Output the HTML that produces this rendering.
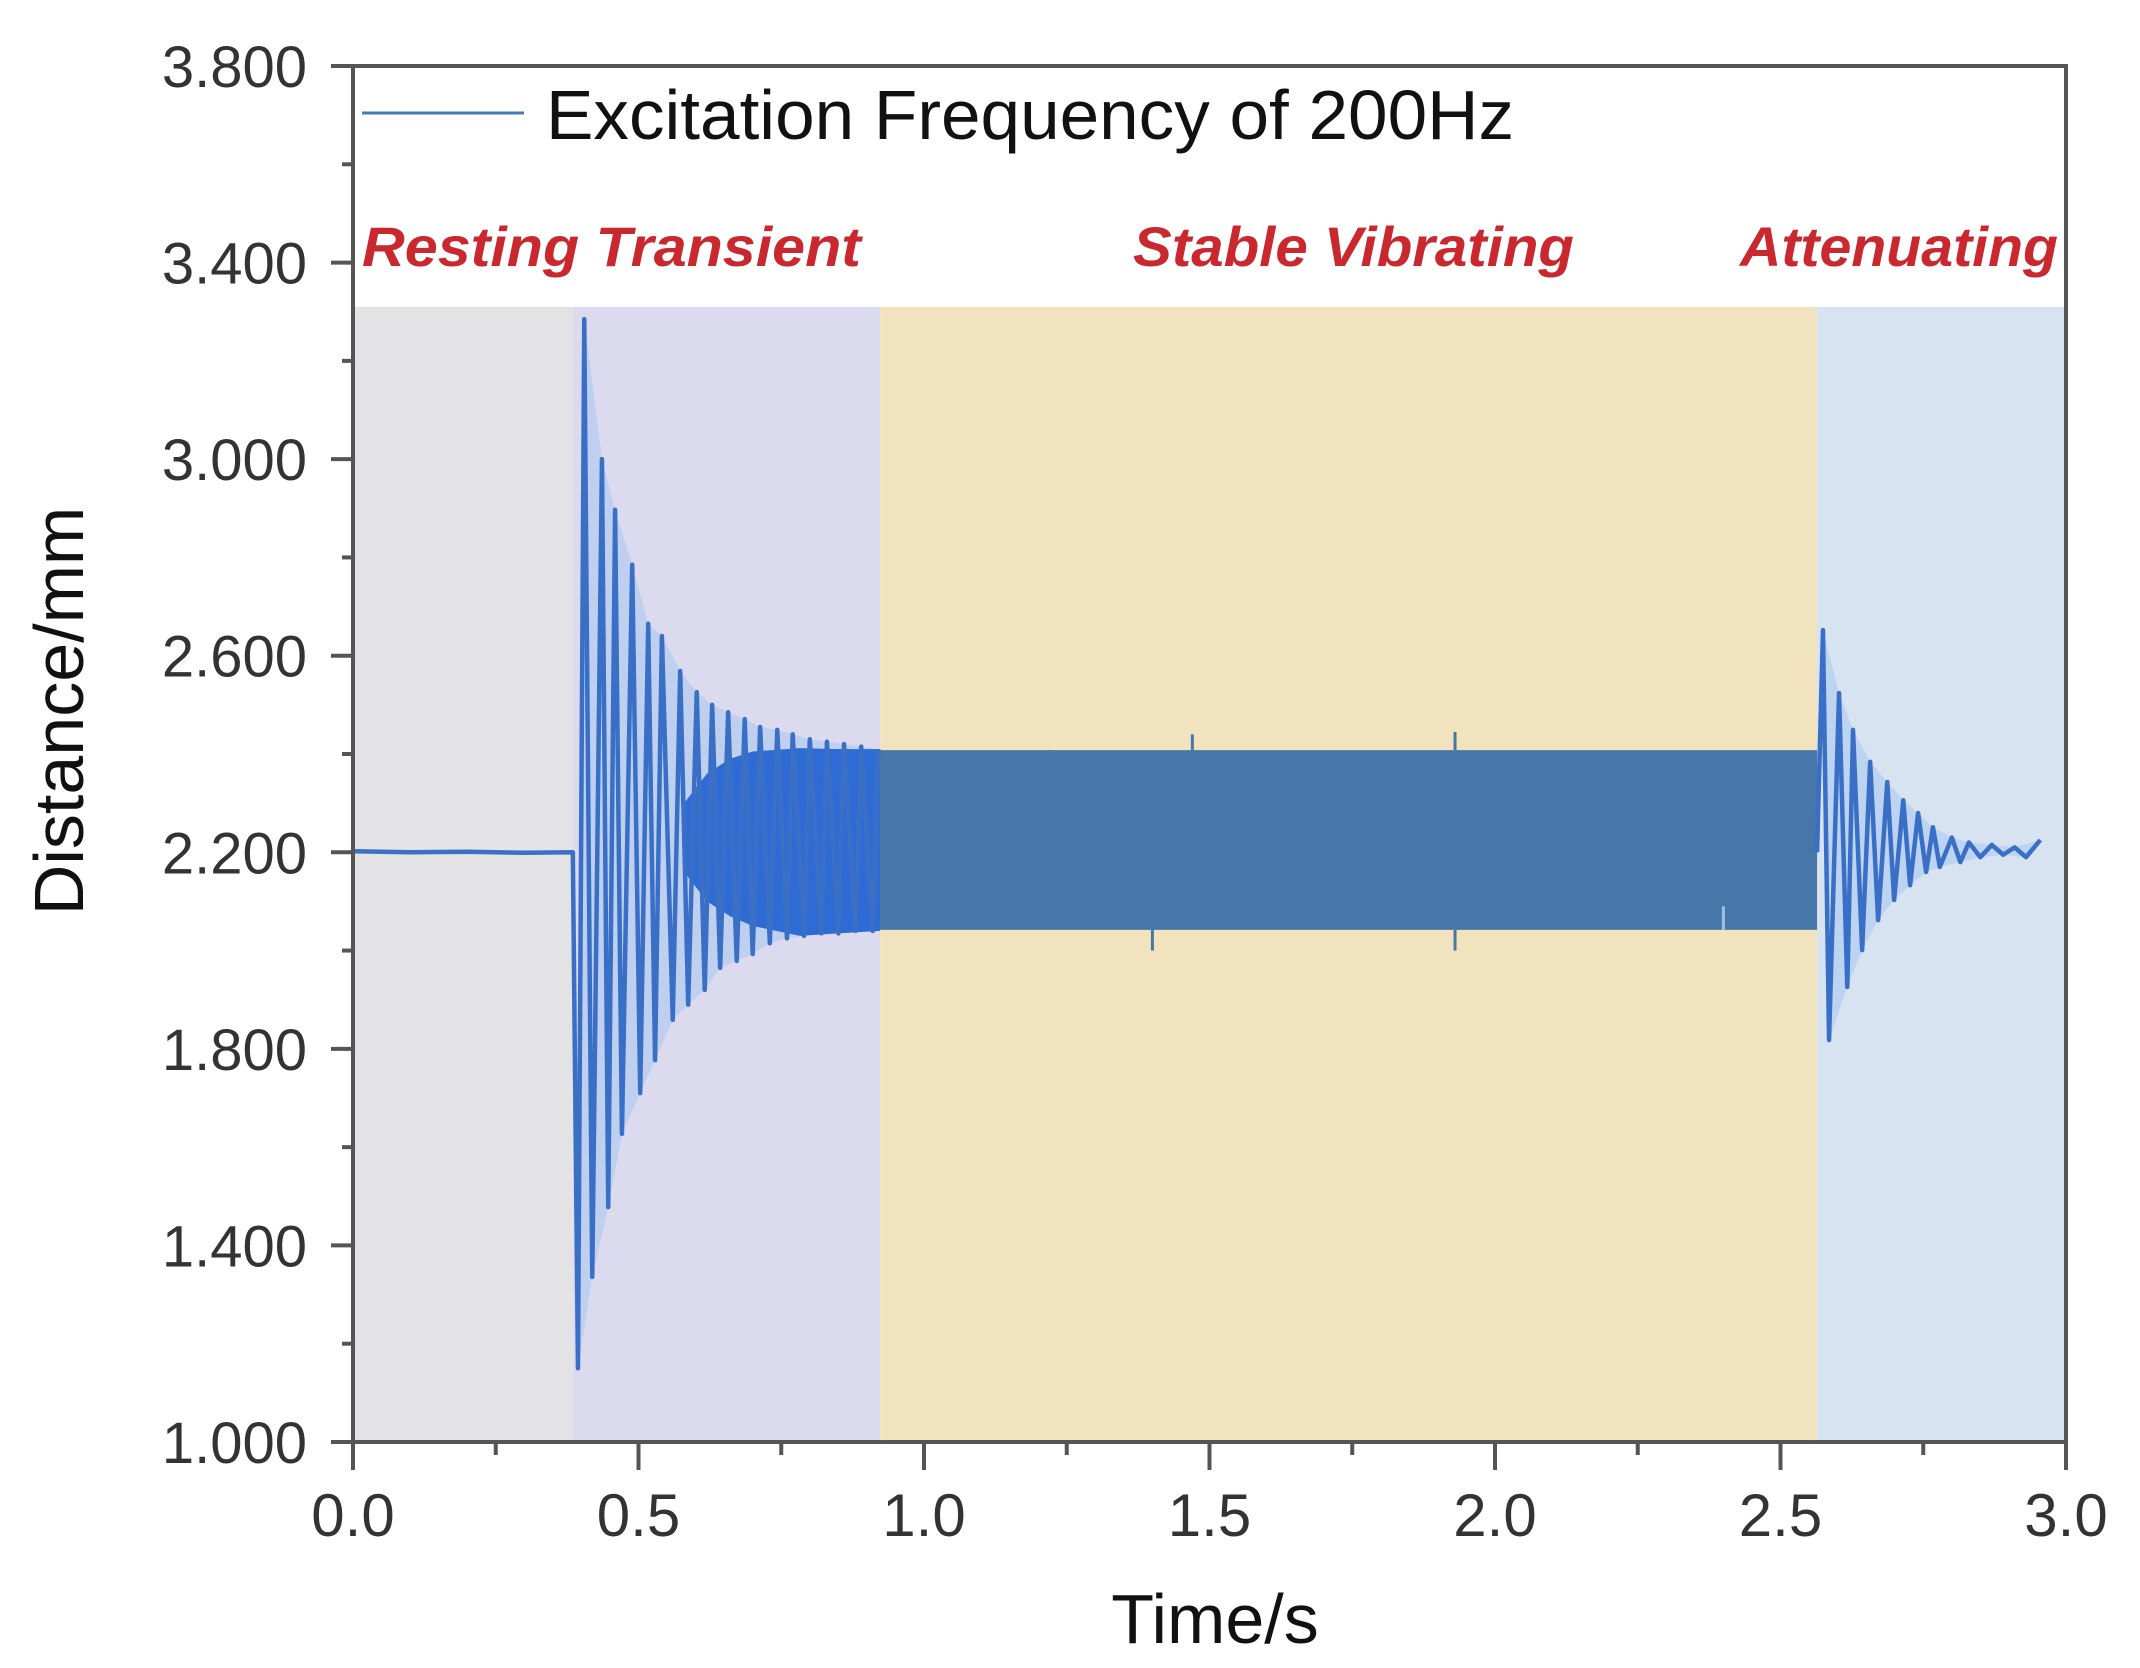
<!DOCTYPE html>
<html><head><meta charset="utf-8"><style>
html,body{margin:0;padding:0;background:#fff;}
svg{display:block;}
text{font-family:"Liberation Sans",sans-serif;}
</style></head><body>
<svg id="chart" width="2140" height="1668" viewBox="0 0 2140 1668" xmlns="http://www.w3.org/2000/svg">
<g id="regions"></g>
<g id="series"></g>
<g id="axes"></g>
<g id="labels"></g>
</svg>
<script>
// ---- data ----
const xTicks = [0.0, 0.5, 1.0, 1.5, 2.0, 2.5, 3.0];
const xTickLabels = ["0.0","0.5","1.0","1.5","2.0","2.5","3.0"];
const yTicks = [1.0, 1.4, 1.8, 2.2, 2.6, 3.0, 3.4, 3.8];
const yTickLabels = ["1.000","1.400","1.800","2.200","2.600","3.000","3.400","3.800"];
const phaseNames = ["Resting","Transient","Stable Vibrating","Attenuating"];
const phaseStart = [0.0, 0.385, 0.923, 2.564];
const phaseEnd = [0.385, 0.923, 2.564, 3.0];
const phaseTop = 3.31;
const restT = [0.0, 0.1, 0.2, 0.3, 0.385];
const restV = [2.202, 2.2, 2.201, 2.199, 2.2];
const transPeakT = [0.405, 0.436, 0.459, 0.489, 0.517, 0.541, 0.573, 0.602, 0.629, 0.657, 0.686, 0.713, 0.743, 0.77, 0.80, 0.83, 0.86, 0.89, 0.92];
const transPeakV = [3.285, 3.00, 2.897, 2.785, 2.665, 2.64, 2.569, 2.526, 2.50, 2.485, 2.471, 2.455, 2.449, 2.44, 2.43, 2.425, 2.42, 2.415, 2.41];
const transTroughT = [0.394, 0.419, 0.447, 0.471, 0.503, 0.529, 0.560, 0.587, 0.616, 0.643, 0.672, 0.700, 0.730, 0.76, 0.79, 0.82, 0.85, 0.88, 0.91];
const transTroughV = [1.15, 1.336, 1.478, 1.627, 1.71, 1.777, 1.859, 1.89, 1.92, 1.965, 1.979, 1.993, 2.015, 2.025, 2.03, 2.035, 2.035, 2.04, 2.04];
const denseT = [0.58, 0.62, 0.66, 0.70, 0.783, 0.85, 0.923];
const denseUpper = [2.30, 2.36, 2.39, 2.405, 2.412, 2.41, 2.41];
const denseLower = [2.16, 2.10, 2.07, 2.05, 2.03, 2.035, 2.04];
const stableT = [0.923, 2.564];
const stableUpper = [2.408, 2.408];
const stableLower = [2.042, 2.042];
const spikeT = [1.22, 1.40, 1.47, 1.93, 1.93, 2.40];
const spikeV = [2.37, 2.00, 2.44, 2.445, 2.00, 2.09];
const attPeakT = [2.5744, 2.6025, 2.627, 2.657, 2.687, 2.715, 2.741, 2.767, 2.80, 2.83, 2.87, 2.91, 2.955];
const attPeakV = [2.652, 2.524, 2.449, 2.384, 2.343, 2.306, 2.28, 2.251, 2.23, 2.22, 2.215, 2.21, 2.225];
const attTroughT = [2.585, 2.617, 2.643, 2.671, 2.699, 2.727, 2.755, 2.779, 2.815, 2.85, 2.89, 2.93];
const attTroughV = [1.818, 1.926, 2.001, 2.062, 2.103, 2.133, 2.16, 2.17, 2.18, 2.19, 2.195, 2.19];

// ---- scales ----
const X0 = 353, X1 = 2066, Y0 = 1442, Y1 = 66;
const xMin = 0, xMax = 3, yMin = 1.0, yMax = 3.8;
function sx(t){ return X0 + (t - xMin) / (xMax - xMin) * (X1 - X0); }
function sy(v){ return Y0 - (v - yMin) / (yMax - yMin) * (Y0 - Y1); }
const NS = "http://www.w3.org/2000/svg";
function mk(tag, attrs, parent){
  const el = document.createElementNS(NS, tag);
  for (const k in attrs) el.setAttribute(k, attrs[k]);
  parent.appendChild(el);
  return el;
}
const gR = document.getElementById('regions');
const gS = document.getElementById('series');
const gA = document.getElementById('axes');
const gL = document.getElementById('labels');

const regionFill = ["#e3e3e6", "#dcdaee", "#f1e3bd", "#d8e3f1"];
phaseStart.forEach((s, i) => {
  const r = mk('rect', {x: sx(s), y: sy(phaseTop), width: sx(phaseEnd[i]) - sx(s), height: Y0 - sy(phaseTop), fill: regionFill[i]}, gR);
  
  
});

function merge(pt, pv, tt, tv){
  const pts = [];
  pt.forEach((t, i) => pts.push([t, pv[i]]));
  tt.forEach((t, i) => pts.push([t, tv[i]]));
  pts.sort((a, b) => a[0] - b[0]);
  return pts;
}
function envPoly(pt, pv, tt, tv){
  const up = pt.map((t, i) => sx(t) + ',' + sy(pv[i]));
  const lo = tt.map((t, i) => sx(t) + ',' + sy(tv[i])).reverse();
  return up.concat(lo).join(' ');
}

const te = mk('polygon', {points: envPoly(transPeakT, transPeakV, transTroughT, transTroughV), fill: "#a8c6f3", opacity: 0.55}, gS);


const ae = mk('polygon', {points: envPoly(attPeakT, attPeakV, attTroughT, attTroughV), fill: "#a8c6f3", opacity: 0.55}, gS);



const dp = mk('polygon', {points: envPoly(denseT, denseUpper, denseT, denseLower), fill: "#2e6bd4"}, gS);



const sb = mk('polygon', {points: envPoly(stableT, stableUpper, stableT, stableLower), fill: "#4677a8"}, gS);


spikeT.forEach((t, i) => {
  const base = spikeV[i] > 2.2 ? stableUpper[0] : stableLower[0];
  const l = mk('line', {x1: sx(t), x2: sx(t), y1: sy(base), y2: sy(spikeV[i]), stroke: spikeV[i] > 2.2 || spikeV[i] < 2.04 ? "#4677a8" : "#9cc0e8", 'stroke-width': 3}, gS);
  
  
});

let pts = [];
restT.forEach((t, i) => pts.push([t, restV[i]]));
pts = pts.concat(merge(transPeakT, transPeakV, transTroughT, transTroughV));
const line1 = mk('polyline', {points: pts.map(p => sx(p[0]) + ',' + sy(p[1])).join(' '), fill: "none", stroke: "#3a6fc6", 'stroke-width': 4.5, 'stroke-linejoin': 'round'}, gS);


let apts = [[stableT[1], 2.2]].concat(merge(attPeakT, attPeakV, attTroughT, attTroughV));
const line2 = mk('polyline', {points: apts.map(p => sx(p[0]) + ',' + sy(p[1])).join(' '), fill: "none", stroke: "#3a6fc6", 'stroke-width': 4.5, 'stroke-linejoin': 'round'}, gS);



const fr = mk('rect', {x: X0, y: Y1, width: X1 - X0, height: Y0 - Y1, fill: "none", stroke: "#555", 'stroke-width': 4}, gA);



xTicks.forEach((t, i) => {
  const tk = mk('line', {x1: sx(t), x2: sx(t), y1: Y0, y2: Y0 + 28, stroke: "#555", 'stroke-width': 4}, gA);
  
  
  if (i < xTicks.length - 1) {
    const mt = mk('line', {x1: sx(t + 0.25), x2: sx(t + 0.25), y1: Y0, y2: Y0 + 13, stroke: "#555", 'stroke-width': 4}, gA);
    
    
  }
  const lb = mk('text', {x: sx(t), y: 1536, 'text-anchor': 'middle', 'font-size': 60, fill: "#333"}, gL);
  lb.textContent = xTickLabels[i];
  
  
});
yTicks.forEach((v, i) => {
  const tk = mk('line', {x1: X0 - 22, x2: X0, y1: sy(v), y2: sy(v), stroke: "#555", 'stroke-width': 4}, gA);
  
  
  if (i < yTicks.length - 1) {
    const mt = mk('line', {x1: X0 - 11, x2: X0, y1: sy(v + 0.2), y2: sy(v + 0.2), stroke: "#555", 'stroke-width': 4}, gA);
    
    
  }
  const lb = mk('text', {x: 307, y: sy(v) + 21, 'text-anchor': 'end', 'font-size': 58, fill: "#333"}, gL);
  lb.textContent = yTickLabels[i];
  
  
});

const xt = mk('text', {x: 1215, y: 1643, 'text-anchor': 'middle', 'font-size': 70, fill: "#111"}, gL);
xt.textContent = "Time/s";


const yt = mk('text', {x: 0, y: 0, 'text-anchor': 'middle', 'font-size': 70, fill: "#111", transform: "translate(83,711) rotate(-90)"}, gL);
yt.textContent = "Distance/mm";



const ll = mk('line', {x1: 362, x2: 524, y1: 113, y2: 113, stroke: "#4a78b8", 'stroke-width': 3}, gL);


const lt = mk('text', {x: 546, y: 139, 'font-size': 70, fill: "#111", textLength: 968, lengthAdjust: "spacingAndGlyphs"}, gL);
lt.textContent = "Excitation Frequency of 200Hz";



const phLabel = ["Resting Transient", "Stable Vibrating", "Attenuating"];
const phX = [362, 1133, 1740];
const phW = [499, 441, 318];
phLabel.forEach((s, i) => {
  const t = mk('text', {x: phX[i], y: 266, 'font-size': 56, 'font-weight': 'bold', 'font-style': 'italic', fill: "#c8282e", textLength: phW[i], lengthAdjust: "spacingAndGlyphs"}, gL);
  t.textContent = s;
  
  
});
</script>
</body></html>
